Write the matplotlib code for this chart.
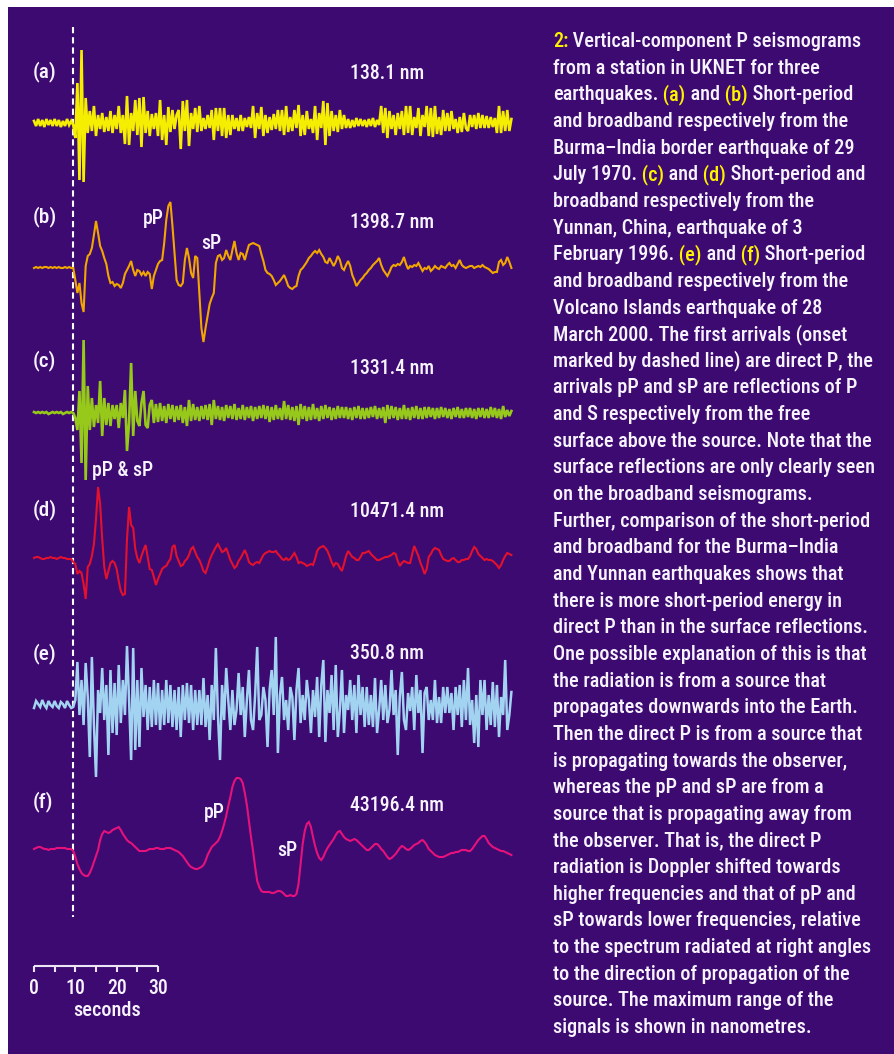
import re
import matplotlib
matplotlib.use('Agg')
import matplotlib.pyplot as plt
import numpy as np
from matplotlib import font_manager
from matplotlib.font_manager import FontProperties
from matplotlib.transforms import Affine2D

# seismogram amplitudes (display units, up = positive), one sample every 0.5 s from t = 0
dt = 0.5
trace_a = [2,-3,4,-3,3,-4,4,-2,3,-3, 4,-3,3,-4,2,-3,4,-2,2,-2,
           -15,40,-57,73,-59,25,-10,12,-8,17, -13,8,-6,10,-9,6,-8,12,-10,8,
           -6,17,-10,8,-21,27,-22,10,-8,23, -12,25,-24,26,-10,12,-13,9,-6,10,
           -13,23,-17,8,-22,16,-9,13,-6,8, 13,-26,22,-8,23,-23,10,-6,15,-9,
           17,-8,5,-6,8,-5,13,-17,15,-8, 15,-13,15,-15,8,-12,8,-6,5,-8,
           8,-8,5,-4,6,-5,17,-15,10,-6, 16,-13,8,-10,6,-7,9,-6,13,-8,
           13,-12,17,-9,6,-8,13,-5,18,-13, 8,-12,12,-6,4,-10,17,-17,10,-5,
           22,-22,20,-13,12,-8,8,-9,13,-6, 8,-5,4,-5,3,-4,5,-3,4,-3,
           3,-4,4,-3,5,-4,3,-2,17,-10, 15,-15,12,-6,8,-12,10,-6,12,-12,
           17,-10,17,-12,6,-5,15,-13,8,-4, 17,-13,15,-14,17,-11,6,-12,13,-8,
           10,-8,12,-6,4,-10,6,-9,10,-5, -8,8,-4,8,-6,10,-5,8,-5,7,
           -5,6,-4,5,-10,17,-10,12,-8,13, -8,4]
trace_b = [0,1,0,1,0,1,1,0,1,0, 1,0,1,0,0,1,0,1,0,0,
           -12,-25,-15,-35,-44,2,12,14,20,33, 47,35,22,17,10,4,-8,-15,-14,-18,
           -16,-17,-20,-15,-6,-2,2,7,-2,-8, -2,-3,-7,-4,-8,-4,-6,-21,-8,-2,
           4,7,8,25,48,62,66,42,15,-12, -17,-18,-15,8,20,10,-5,-10,12,10,
           -25,-60,-74,-60,-48,-36,-30,-25,5,12, 13,8,10,18,12,8,18,27,15,8,
           15,14,8,16,23,24,25,24,23,22, 14,7,-2,-5,-6,-8,-12,-17,-15,-13,
           -10,-7,-12,-18,-20,-21,-19,-18,-8,-2, 0,3,6,10,12,15,17,15,18,14,
           11,6,5,10,6,2,6,12,8,0, -2,3,7,2,-7,-12,-18,-15,-12,-10,
           -7,-5,-2,0,3,5,7,10,3,-2, -5,-8,-4,1,3,2,4,3,6,11,
           4,-1,2,1,3,2,5,1,-3,0, -1,2,-3,-1,2,0,-1,2,1,0,
           3,5,2,3,0,4,8,3,1,0, 1,2,2,0,1,2,1,3,1,0,
           -1,-3,-5,-4,-4,6,8,3,5,11, 6,0]
trace_c = [1,0,1,0,1,0,1,-1,0,1, 0,1,0,1,-1,0,1,0,1,0,
           -5,-17,22,-50,73,-67,27,-17,15,-14, 8,-10,32,-23,15,-12,10,-13,8,-6,
           8,-15,10,-5,23,-38,-10,50,-23,22, -8,-13,10,22,-12,-15,8,13,-10,9,
           -9,10,-8,7,-10,9,-6,8,-9,7, -7,8,-10,6,-13,13,-8,9,-7,6,
           -8,7,-6,8,-7,9,-12,13,-6,7, -7,6,-8,8,-5,7,-6,9,-7,5,
           -6,8,-7,6,-5,7,-8,6,-6,7, -5,8,-6,7,-9,6,-7,8,-6,5,
           -7,12,-6,8,-7,6,-8,7,-12,9, -6,7,-8,6,-7,9,-6,5,-8,7,
           -6,8,-5,6,-7,5,-6,7,-5,6, -5,6,-6,5,-7,6,-5,7,-6,5,
           -6,5,-5,6,-4,7,-6,5,-5,6, -10,8,-6,7,-5,6,-7,5,-6,8,
           -6,5,-7,6,-5,7,-6,5,-6,6, -5,6,-4,5,-6,5,-5,6,-4,5,
           -5,4,-6,5,-4,6,-5,4,-5,5, -4,5,-5,4,-6,5,-4,5,-5,4,
           -5,6,-4,5,-5,4,-6,7,-4,3, -3,2]
trace_d = [1,2,2,1,0,0,1,1,2,1, 1,0,1,2,1,1,0,0,0,-3,
           -5,-15,-12,-14,-25,-40,-8,-5,3,15, 40,72,55,20,-8,-20,-12,-4,-2,-4,
           -10,-22,-32,-36,-35,20,52,34,31,10, 1,-4,3,9,14,2,-10,-11,-18,-26,
           -20,-15,-10,-8,-7,-3,0,12,14,3, -2,-7,-6,-2,0,4,10,12,7,2,
           -1,-6,-12,-14,-8,-1,4,8,12,15, 11,7,8,11,5,-1,-5,-9,-7,-2,
           1,5,9,4,-3,-5,-6,-4,-3,-4, 0,4,6,7,8,7,7,8,5,3,
           0,-1,1,-1,0,3,6,2,-4,-3, -4,-5,-7,-6,-5,-6,0,8,11,12,
           13,11,8,3,-3,-7,-4,-5,-9,-12, -5,3,8,5,2,1,-1,-1,2,6,
           6,7,8,5,3,1,-1,-1,0,1, 2,2,3,4,6,5,-2,-7,-4,-2,
           -3,-4,-4,5,13,8,3,-4,-9,-15, -10,2,5,9,11,10,9,4,0,-1,
           -2,-2,0,1,-1,-3,-3,-1,-1,0, 0,3,8,12,10,5,3,1,-1,0,
           -1,-1,-2,-4,-6,-9,-6,-1,3,6, 5,4]
trace_e = [-3,4,1,-2,5,0,-3,4,0,-2, 4,-1,-3,3,1,-3,4,0,-3,-2,
           5,43,-10,25,-20,42,8,-52,48,-20, -72,15,-8,37,-15,20,-50,35,-28,22,
           -30,40,-18,25,-10,59,5,-55,57,-45, 25,-42,37,-12,20,-25,18,-22,25,-20,
           22,-25,15,-20,25,-18,20,-22,15,-25, 18,-32,20,-15,22,-18,20,-25,15,-20,
           15,-20,27,-22,10,-35,20,-15,57,-10, -55,20,-15,37,5,-25,15,-20,-5,32,
           -10,18,-32,5,35,-15,-25,10,58,-15, -10,18,5,-42,15,35,-10,68,-48,10,
           28,-15,5,-25,18,8,-35,15,37,-18, 10,-15,25,5,-28,15,-12,28,-32,20,
           45,-37,15,-8,30,-25,40,-32,-5,35, -28,10,-5,25,-15,20,-28,30,-10,18,
           -22,18,-20,10,-22,27,-28,-5,25,-15, 20,-18,-5,35,-10,15,-50,8,33,-15,
           -25,12,-6,18,-25,30,-8,15,-48,12, 18,-15,5,-15,25,-18,8,-18,18,-8,
           18,-8,12,-25,18,-10,20,-22,25,-15, 37,-20,5,-38,10,-42,25,-10,25,-25,
           10,-20,23,-22,20,-32,8,-10,45,-25, -10,13]
trace_f = [0,1,2,2,1,0,0,-1,0,0, 0,1,1,1,1,1,0,0,0,-2,
           -8,-15,-20,-24,-26,-27,-27,-24,-19,-13, -7,-1,9,15,18,17,16,17,19,20,
           21,22,19,15,12,9,7,6,4,2, 0,-2,-2,-2,-2,-1,0,0,0,1,
           1,0,0,0,1,1,1,0,-1,-2, -3,-5,-7,-10,-13,-16,-18,-19,-20,-20,
           -19,-18,-16,-12,-6,-2,2,4,6,8, 12,18,25,33,43,52,62,68,71,71,
           70,66,56,44,28,12,-2,-18,-32,-38, -42,-43,-43,-43,-43,-44,-44,-43,-42,-42,
           -43,-45,-47,-47,-46,-47,-47,-45,-35,-15, 5,18,25,27,22,12,3,-4,-9,-11,
           -8,-3,1,4,7,10,14,17,18,15, 12,10,9,8,9,10,9,7,5,3,
           1,-1,-1,1,3,5,5,3,0,-2, -5,-8,-10,-9,-7,-5,-2,1,3,2,
           0,-1,0,2,4,5,6,8,9,7, 4,0,-2,-4,-6,-7,-8,-8,-8,-7,
           -6,-5,-4,-4,-3,-3,-2,-1,-1,-1, -2,-2,0,3,6,9,11,13,13,10,
           6,4,2,1,0,-1,-2,-2,-3,-4, -5,-6]

traces = [trace_a, trace_b, trace_c, trace_d, trace_e, trace_f]
panel_labels = ['(a)', '(b)', '(c)', '(d)', '(e)', '(f)']
max_range_nm = ['138.1', '1398.7', '1331.4', '10471.4', '350.8', '43196.4']
trace_colors = ['#f6ee00', '#f2a700', '#97c91a', '#e2112d', '#a2d4f2', '#e5127b']
trace_widths = [1.9, 1.5, 1.9, 1.5, 1.8, 1.5]
onset_time = 9.4
scale_ticks = [0, 5, 10, 15, 20, 25, 30]
scale_labels = [0, 10, 20, 30]

caption_lines = [
    "{2:} Vertical-component P seismograms",
    "from a station in UKNET for three",
    "earthquakes. {(a)} and {(b)} Short-period",
    "and broadband respectively from the",
    "Burma\u2013India border earthquake of 29",
    "July 1970. {(c)} and {(d)} Short-period and",
    "broadband respectively from the",
    "Yunnan, China, earthquake of 3",
    "February 1996. {(e)} and {(f)} Short-period",
    "and broadband respectively from the",
    "Volcano Islands earthquake of 28",
    "March 2000. The first arrivals (onset",
    "marked by dashed line) are direct P, the",
    "arrivals pP and sP are reflections of P",
    "and S respectively from the free",
    "surface above the source. Note that the",
    "surface reflections are only clearly seen",
    "on the broadband seismograms.",
    "Further, comparison of the short-period",
    "and broadband for the Burma\u2013India",
    "and Yunnan earthquakes shows that",
    "there is more short-period energy in",
    "direct P than in the surface reflections.",
    "One possible explanation of this is that",
    "the radiation is from a source that",
    "propagates downwards into the Earth.",
    "Then the direct P is from a source that",
    "is propagating towards the observer,",
    "whereas the pP and sP are from a",
    "source that is propagating away from",
    "the observer. That is, the direct P",
    "radiation is Doppler shifted towards",
    "higher frequencies and that of pP and",
    "sP towards lower frequencies, relative",
    "to the spectrum radiated at right angles",
    "to the direction of propagation of the",
    "source. The maximum range of the",
    "signals is shown in nanometres.",
]

# layout (pixels from top-left of the picture)
W, H = 894, 1054
PX_PER_S = 124 / 30.0
T0_X = 34
baselines = [123, 268, 413, 559, 705, 849]
label_y = [77, 222, 366, 515, 659, 807]
nm_y = [79, 228, 374, 517, 659, 811]
PURPLE = '#3d0a72'
WHITE = '#f7f3fc'
YELLOW = '#fff200'


def pick_font():
    # a narrow sans is closest to the condensed face of the original;
    # the original is a little heavier than a regular weight
    def pick(cands):
        for want in ((500, 'medium'), (600, 'semibold', 'demibold'), (700, 'bold')):
            for f in cands:
                if f.weight in want:
                    return f.fname
        for f in cands:
            if f.weight in (400, 'normal', 'regular'):
                return f.fname
        return None
    entries = [f for f in font_manager.fontManager.ttflist if f.style == 'normal']
    for name in ['Liberation Sans Narrow', 'Roboto Condensed', 'Open Sans Condensed',
                 'DejaVu Sans Condensed', 'Noto Sans Condensed']:
        got = pick([f for f in entries if f.name == name])
        if got:
            return got
    for name in ['Roboto', 'Noto Sans', 'DejaVu Sans', 'Open Sans']:
        got = pick([f for f in entries if f.name == name and f.stretch not in ('normal', 500)])
        if got:
            return got
    return pick([f for f in entries if f.name == 'Liberation Sans'])


FONT_FILE = pick_font()


def fp(size):
    if FONT_FILE:
        return FontProperties(fname=FONT_FILE, size=size)
    return FontProperties(family='DejaVu Sans', size=size)


fig = plt.figure(figsize=(W / 100, H / 100), dpi=100, facecolor='white')
renderer = fig.canvas.get_renderer()
PIX = Affine2D().scale(1, -1).translate(0, H)


def fit_size(sample, target_px, base=14.0):
    t = fig.text(0, 0, sample, fontproperties=fp(base))
    w = t.get_window_extent(renderer).width
    t.remove()
    return base * target_px / w


CAP_SIZE = fit_size("surface reflections are only clearly seen", 324)
LAB_SIZE = fit_size("10471.4 nm", 94)
SEC_SIZE = fit_size("seconds", 68)
NUM_SIZE = fit_size("30", 20)

ax = fig.add_axes([8 / W, 0, (W - 8) / W, (H - 7) / H])
ax.set_facecolor(PURPLE)
for s in ax.spines.values():
    s.set_visible(False)
ax.set_xticks([])
ax.set_yticks([])
ax.set_xlim((8 - T0_X) / PX_PER_S, (W - T0_X) / PX_PER_S)
ax.set_ylim(H, 7)

for tr, base, col, lw in zip(traces, baselines, trace_colors, trace_widths):
    amp = np.array(tr, dtype=float)
    t = np.arange(len(amp)) * dt
    ax.plot(t, base - amp, color=col, lw=lw, solid_joinstyle='miter', zorder=3)

# onset
ax.plot([onset_time, onset_time], [27, 917], color='white', lw=1.5,
        dashes=(3.0, 1.9), zorder=2)

# time scale bar
ax.plot([scale_ticks[0], scale_ticks[-1]], [966, 966], color='#ece6f4', lw=1.5,
        solid_capstyle='butt')
for tk in scale_ticks:
    ax.plot([tk, tk], [966, 971.5], color='#ece6f4', lw=1.5, solid_capstyle='butt')
for tk in scale_labels:
    ax.text(tk, 994, str(tk), color=WHITE, fontproperties=fp(NUM_SIZE),
            ha='center', va='baseline')
ax.text(17.8, 1016, 'seconds', color=WHITE, fontproperties=fp(SEC_SIZE),
        ha='center', va='baseline')

for lab, nm, ly, ny in zip(panel_labels, max_range_nm, label_y, nm_y):
    fig.text(33, ly, lab, transform=PIX, color=WHITE, fontproperties=fp(LAB_SIZE * 1.08),
             va='baseline')
    fig.text(350, ny, nm + ' nm', transform=PIX, color=WHITE,
             fontproperties=fp(LAB_SIZE), va='baseline')

phase_labels = [('pP', 143, 224), ('sP', 201, 249), ('pP & sP', 92, 476),
                ('pP', 204, 818), ('sP', 277, 856)]
for txt, x, y in phase_labels:
    fig.text(x, y, txt, transform=PIX, color=WHITE, fontproperties=fp(LAB_SIZE),
             va='baseline')


def segments(line):
    out = []
    carry = ''
    for p in re.split(r'(\{[^}]*\})', line):
        if not p:
            continue
        col = YELLOW if p.startswith('{') else WHITE
        txt = carry + p.strip('{}')
        stripped = txt.rstrip(' ')
        carry = txt[len(stripped):]
        out.append((stripped, col))
    return out


# caption with highlighted panel letters
CAP_X, CAP_BASE, CAP_STEP = 553, 47, 26.65
for i, line in enumerate(caption_lines):
    y = CAP_BASE + i * CAP_STEP
    x = CAP_X
    for seg, col in segments(line):
        tx = fig.text(x, y, seg, transform=PIX, color=col, fontproperties=fp(CAP_SIZE),
                      va='baseline')
        x += tx.get_window_extent(renderer).width

fig.savefig('out.png', dpi=100, facecolor='white')
